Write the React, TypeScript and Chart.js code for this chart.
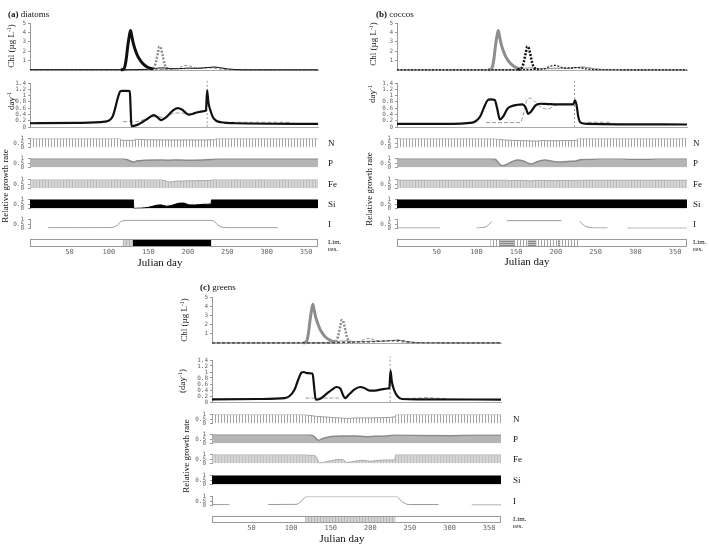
import React, { useEffect, useRef } from "react";
import { Chart, registerables } from "chart.js";
Chart.register(...registerables);

type Pt = [number, number | null];
type Seg = [number, number, string];

// ---------------- data ----------------
const dayTicks = [50, 100, 150, 200, 250, 300, 350];
const chlTicks = [1, 2, 3, 4, 5];
const growthTicks = [0, 0.2, 0.4, 0.6, 0.8, 1, 1.2, 1.4];
const limTicks = [0, 0.5, 1];

// Chlorophyll (µg L-1), shared model run
const chlDiatomBloom: Pt[] = [[115, 0.03], [118, 0.05], [120, 0.3], [122, 1.2], [124, 2.6], [126, 3.7], [127.5, 4.2], [129, 3.6], [131, 2.8], [134, 2.0], [137, 1.4], [140, 1.0], [144, 0.6], [148, 0.35], [152, 0.2], [156, 0.12]];
const chlDiatomTail: Pt[] = [[0, 0.03], [115, 0.03], [156, 0.12], [162, 0.2], [170, 0.22], [178, 0.14], [188, 0.14], [200, 0.2], [210, 0.18], [220, 0.22], [228, 0.28], [234, 0.32], [240, 0.25], [250, 0.12], [260, 0.05], [280, 0.02], [365, 0.02]];
const chlCoccoPeak: Pt[] = [[152, 0.05], [156, 0.15], [158, 0.4], [160, 1.0], [162, 1.8], [164, 2.5], [166, 2.3], [168, 1.6], [170, 0.8], [172, 0.35], [175, 0.12], [178, 0.08]];
const chlCoccoTail: Pt[] = [[0, 0.02], [152, 0.02], [178, 0.08], [185, 0.12], [190, 0.3], [195, 0.45], [199, 0.5], [204, 0.38], [210, 0.22], [218, 0.2], [225, 0.25], [232, 0.2], [240, 0.1], [250, 0.03], [365, 0.02]];
const chlGreens: Pt[] = [[0, 0.02], [150, 0.02], [160, 0.05], [175, 0.1], [190, 0.12], [205, 0.15], [215, 0.22], [225, 0.25], [235, 0.28], [242, 0.22], [250, 0.1], [260, 0.03], [365, 0.02]];

// growth rates (day-1)
const grA: Pt[] = [[0, 0.12], [60, 0.13], [95, 0.17], [101, 0.22], [105, 0.35], [108, 0.6], [111, 0.9], [114, 1.12], [116, 1.15], [122, 1.15], [126.5, 1.14], [127.5, 0.6], [128.5, 0.03], [135, 0.06], [142, 0.15], [150, 0.28], [157, 0.38], [162, 0.3], [166, 0.22], [172, 0.3], [180, 0.5], [187, 0.6], [193, 0.55], [201, 0.39], [210, 0.45], [219, 0.5], [223, 0.52], [224.5, 1.17], [226, 0.8], [229, 0.5], [232, 0.3], [236, 0.2], [242, 0.15], [260, 0.12], [365, 0.1]];
const lossA: Pt[] = [[118, 0.17], [134, 0.17], [140, 0.2], [150, 0.28], [160, 0.33], [170, 0.3], [180, 0.42], [190, 0.45], [200, 0.42], [212, 0.47], [222, 0.5], [224, 0.5], [232, null], [240, 0.15], [330, 0.15]];
const spikeA: Pt[] = [[224.5, 0], [224.5, 1.5]];
const grB: Pt[] = [[0, 0.1], [60, 0.1], [95, 0.14], [100, 0.2], [105, 0.35], [110, 0.65], [114, 0.85], [118, 0.88], [123, 0.86], [126, 0.6], [129.5, 0.24], [134, 0.35], [139, 0.58], [144, 0.66], [150, 0.7], [158, 0.72], [162, 0.62], [165, 0.42], [169, 0.5], [174, 0.68], [180, 0.74], [190, 0.73], [200, 0.72], [210, 0.72], [222, 0.72], [224, 0.85], [226, 0.7], [228, 0.35], [231, 0.14], [240, 0.1], [365, 0.08]];
const lossB: Pt[] = [[112, 0.14], [155, 0.14], [160, 0.5], [164, 0.88], [168, 0.92], [174, 0.8], [182, 0.62], [190, 0.57], [198, 0.68], [205, 0.72], [223, 0.73], [230, null], [240, 0.15], [268, 0.15]];
const spikeB: Pt[] = [[223.5, 0], [223.5, 1.5]];
const grC: Pt[] = [[0, 0.09], [60, 0.1], [92, 0.13], [98, 0.2], [104, 0.4], [109, 0.75], [113, 0.98], [116, 1.0], [120, 0.96], [127, 0.95], [129, 0.5], [131, 0.08], [136, 0.1], [145, 0.28], [152, 0.42], [157, 0.5], [162, 0.45], [166, 0.2], [168, 0.13], [173, 0.25], [180, 0.42], [187, 0.5], [193, 0.46], [199, 0.38], [206, 0.38], [214, 0.42], [222, 0.45], [224, 0.47], [225.5, 1.05], [227, 0.7], [230, 0.4], [234, 0.2], [240, 0.1], [260, 0.09], [365, 0.08]];
const lossC: Pt[] = [[118, 0.13], [160, 0.13], [170, null], [245, 0.12], [262, 0.13], [270, 0.15], [282, 0.13], [295, 0.11]];
const spikeC: Pt[] = [[225, 0], [225, 1.52]];

// relative growth rate by resource
const nA: Pt[] = [[0, 1], [114, 1], [116, 0.8], [132, 0.8], [134, 0.93], [140, 0.9], [150, 0.86], [170, 0.85], [200, 0.85], [220, 0.85], [234, 0.86], [236, 1], [365, 1]];
const pA: Pt[] = [[0, 1], [118, 1], [122, 0.92], [131, 0.62], [136, 0.75], [145, 0.8], [160, 0.85], [175, 0.82], [190, 0.85], [205, 0.8], [220, 0.85], [232, 0.92], [240, 0.97], [365, 0.97]];
const feA: Pt[] = [[0, 1], [165, 1], [172, 0.85], [177, 0.72], [182, 0.8], [195, 0.85], [210, 0.88], [228, 0.9], [232, 1], [365, 1]];
const siA: Pt[] = [[0, 1], [131, 1], [131.5, 0], [140, 0.03], [150, 0.12], [160, 0.35], [166, 0.4], [173, 0.25], [180, 0.35], [190, 0.6], [195, 0.6], [202, 0.4], [210, 0.4], [220, 0.47], [229.5, 0.5], [230, 1], [365, 1]];
const iA: Pt[] = [[23, 0.08], [60, 0.08], [100, 0.09], [106, 0.15], [111, 0.4], [115, 0.75], [119, 0.9], [123, 0.92], [230, 0.92], [234, 0.75], [238, 0.4], [242, 0.18], [247, 0.1], [252, 0.08], [314, 0.08]];
const limA: Seg[] = [[0, 118, "I"], [118, 131, "Fe"], [131, 230, "Si"], [230, 365, "I"]];

const nB: Pt[] = [[0, 1], [112, 1], [118, 0.96], [122, 1], [128, 0.92], [135, 0.85], [145, 0.8], [155, 0.78], [165, 0.75], [175, 0.72], [185, 0.78], [195, 0.75], [205, 0.77], [215, 0.78], [226, 0.8], [228, 1], [365, 1]];
const pB: Pt[] = [[0, 1], [118, 1], [124, 0.9], [128, 0.5], [132, 0.2], [137, 0.3], [145, 0.65], [152, 0.85], [160, 0.7], [166, 0.45], [170, 0.4], [176, 0.65], [186, 0.85], [195, 0.7], [203, 0.6], [215, 0.68], [225, 0.72], [232, 0.9], [250, 0.95], [255, 1], [285, 1], [290, 0.92], [320, 0.92], [325, 1], [365, 1]];
const feB: Pt[] = [[0, 0.95], [138, 0.95], [142, 0.9], [160, 0.92], [168, 0.85], [172, 0.92], [200, 0.9], [230, 0.92], [232, 0.95], [365, 0.95]];
const siB: Pt[] = [[0, 1], [365, 1]];
const iB: Pt[] = [[0, 0.05], [54, 0.05], [60, null], [100, 0.05], [108, 0.1], [114, 0.3], [119, 0.8], [125, null], [138, 0.88], [207, 0.88], [215, null], [230, 0.8], [236, 0.3], [242, 0.12], [250, 0.05], [265, 0.05], [275, null], [290, 0.03], [365, 0.03]];
const limB: Seg[] = [[0, 118, "I"], [118, 230, "N"], [130, 147, "P"], [165, 175, "P"], [203, 205, "P"], [230, 365, "I"]];

const nC: Pt[] = [[0, 1], [116, 1], [122, 0.92], [132, 0.8], [145, 0.72], [155, 0.65], [165, 0.6], [172, 0.55], [180, 0.62], [195, 0.62], [210, 0.65], [225, 0.68], [231, 0.75], [233, 1], [365, 1]];
const pC: Pt[] = [[0, 1], [118, 1], [126, 0.95], [131, 0.6], [134, 0.35], [140, 0.55], [150, 0.78], [165, 0.85], [180, 0.85], [195, 0.75], [205, 0.8], [220, 0.85], [232, 0.97], [240, 0.95], [280, 0.9], [300, 0.88], [330, 0.95], [365, 0.95]];
const feC: Pt[] = [[0, 1], [118, 1], [122, 0.95], [130, 0.9], [133, 0.5], [136, 0.05], [145, 0.2], [155, 0.4], [163, 0.45], [167, 0.35], [170, 0.1], [180, 0.25], [190, 0.35], [200, 0.25], [210, 0.35], [222, 0.38], [231, 0.4], [232, 1], [365, 1]];
const siC: Pt[] = [[0, 1], [365, 1]];
const iC: Pt[] = [[0, 0.1], [22, 0.08], [40, null], [71, 0.1], [106, 0.12], [112, 0.4], [116, 0.8], [120, 1], [233, 1], [238, 0.6], [243, 0.25], [248, 0.1], [286, 0.1], [300, null], [328, 0.05], [365, 0.05]];
const limC: Seg[] = [[0, 118, "I"], [118, 232, "Fe"], [232, 365, "I"]];

// ---------------- styling / helpers ----------------
const MONO = "'DejaVu Sans Mono', monospace";
const SERIF = "'Liberation Serif', 'DejaVu Serif', serif";
const BLACK = "#111";
const GRAY = "#8e8e8e";

const xy = (a: Pt[]) => a.map(([x, y]) => ({ x, y }));

function vPattern(bg: string, fg: string, step: number) {
  const c = document.createElement("canvas");
  c.width = step; c.height = 1;
  const g = c.getContext("2d")!;
  g.fillStyle = bg; g.fillRect(0, 0, step, 1);
  g.fillStyle = fg; g.fillRect(0, 0, 1, 1);
  return g.createPattern(c, "repeat")!;
}
function hPattern(bg: string, fg: string, step: number) {
  const c = document.createElement("canvas");
  c.width = 1; c.height = step;
  const g = c.getContext("2d")!;
  g.fillStyle = bg; g.fillRect(0, 0, 1, step);
  g.fillStyle = fg; g.fillRect(0, 0, 1, 1);
  return g.createPattern(c, "repeat")!;
}
function limFill(k: string): any {
  if (k === "Si") return "#000";
  if (k === "Fe") return vPattern("#d4d4d4", "#b5b5b5", 3);
  if (k === "N") return vPattern("#ffffff", "#a5a5a5", 3);
  if (k === "P") return hPattern("#c4c4c4", "#8a8a8a", 2);
  return "#ffffff";
}

type Pad = { yW: number; padT: number; padB: number; padR: number; xH: number };

function yAxis(min: number, max: number, ticks: number[], p: Pad, pad: number) {
  return {
    type: "linear", min, max,
    afterFit: (s: any) => { s.width = p.yW; },
    afterBuildTicks: (s: any) => { s.ticks = ticks.map((v) => ({ value: v })); },
    ticks: { autoSkip: false, font: { family: MONO, size: 6 }, color: "#666", padding: pad, callback: (v: any) => String(v) },
    grid: { display: true, drawOnChartArea: false, drawTicks: true, tickLength: 2, color: "#999" },
    border: { display: true, color: "#999", width: 1 },
  };
}
function xAxis(p: Pad, show: boolean, border: any) {
  return {
    type: "linear", min: 0, max: 365,
    afterFit: (s: any) => { s.height = p.xH; },
    afterBuildTicks: (s: any) => { s.ticks = dayTicks.map((v) => ({ value: v })); },
    ticks: { display: show, autoSkip: false, maxRotation: 0, font: { family: MONO, size: 7 }, color: "#666", padding: 1 },
    grid: { display: false, drawTicks: false },
    border,
  };
}
function baseOpts(p: Pad, left: number) {
  return {
    animation: false, responsive: false, maintainAspectRatio: false, devicePixelRatio: 1, events: [],
    layout: { padding: { top: p.padT, bottom: p.padB, left, right: p.padR } },
    plugins: { legend: { display: false }, tooltip: { enabled: false }, title: { display: false } },
  };
}
function lineDs(d: Pt[], color: string, width: number, dash: number[] = [], extra: any = {}) {
  return { type: "line", data: xy(d), borderColor: color, borderWidth: width, borderDash: dash, pointRadius: 0, fill: false, cubicInterpolationMode: "monotone", ...extra };
}

type LS = { d: Pt[]; c: string; w: number; dash?: number[] };

function makeLines(lines: LS[], ymin: number, ymax: number, ticks: number[], border: any, tickPad: number) {
  return (p: Pad) => ({
    type: "line",
    data: { datasets: lines.map((l) => lineDs(l.d, l.c, l.w, l.dash || [], { clip: false })) },
    options: { ...baseOpts(p, 0), scales: { x: xAxis(p, false, border), y: yAxis(ymin, ymax, ticks, p, tickPad) } },
  });
}
function makeSub(kind: string, d: Pt[]) {
  return (p: Pad) => {
    let ds: any;
    if (kind === "N") ds = lineDs(d, "#a0a0a0", 1, [], { fill: "origin", backgroundColor: vPattern("#ffffff", "#a5a5a5", 3), cubicInterpolationMode: "default", tension: 0 });
    else if (kind === "P") ds = lineDs(d, "#8a8a8a", 1.5, [], { fill: "origin", backgroundColor: "#b5b5b5" });
    else if (kind === "Fe") ds = lineDs(d, "#aaaaaa", 1, [], { fill: "origin", backgroundColor: vPattern("#d6d6d6", "#bdbdbd", 3) });
    else if (kind === "Si") ds = lineDs(d, "#000", 1, [], { fill: "origin", backgroundColor: "#000" });
    else ds = lineDs(d, "#9a9a9a", 1);
    return {
      type: "line",
      data: { datasets: [ds] },
      options: { ...baseOpts(p, 0), scales: { x: xAxis(p, false, { display: false }), y: yAxis(0, 1, limTicks, p, 4) } },
    };
  };
}
const framePlugin = {
  id: "frame",
  afterDatasetsDraw(chart: any) {
    const { ctx, chartArea: a } = chart;
    ctx.save();
    ctx.strokeStyle = "#9a9a9a";
    ctx.lineWidth = 1;
    ctx.strokeRect(Math.round(a.left) + 0.5, Math.round(a.top) + 0.5, Math.round(a.right - a.left) - 1, Math.round(a.bottom - a.top) - 1);
    ctx.restore();
  },
};
function makeLim(segs: Seg[]) {
  return (p: Pad) => ({
    type: "bar",
    data: {
      labels: [""],
      // later segments drawn on top (lower order = drawn later)
      datasets: segs.map(([a, b, k], i) => ({ data: [[a, b]], order: segs.length - i, backgroundColor: limFill(k), borderWidth: 0, grouped: false, barPercentage: 1, categoryPercentage: 1 })),
    },
    options: { ...baseOpts(p, p.yW), indexAxis: "y", scales: { x: xAxis(p, true, { display: false }), y: { display: false } } },
    plugins: [framePlugin],
  });
}

// ---------------- components ----------------
function Box(props: { x0: number; x1: number; row: [number, number]; make: (p: Pad) => any; padT?: number; padB?: number; xH?: number }) {
  const ref = useRef<HTMLCanvasElement>(null);
  const p: Pad = { yW: 30, padT: props.padT ?? 6, padB: props.padB ?? 6, padR: 4, xH: props.xH ?? 0 };
  const w = p.yW + (props.x1 - props.x0) + p.padR;
  const h = p.padT + (props.row[1] - props.row[0]) + p.xH + p.padB;
  useEffect(() => {
    const c = new Chart(ref.current!, props.make(p));
    return () => c.destroy();
  }, []);
  return <canvas ref={ref} width={w} height={h} style={{ position: "absolute", left: props.x0 - p.yW, top: props.row[0] - p.padT, width: w, height: h, display: "block" }} />;
}

function VText({ x, y, size = 9, children }: any) {
  return <div style={{ position: "absolute", left: x, top: y, transform: "translate(-50%,-50%) rotate(-90deg)", fontSize: size, whiteSpace: "nowrap", lineHeight: 1 }}>{children}</div>;
}
function Txt({ x, y, size = 9, center = false, children }: any) {
  return <div style={{ position: "absolute", left: x, top: y, transform: center ? "translate(-50%,-50%)" : "translate(0,-50%)", fontSize: size, whiteSpace: "nowrap", lineHeight: 1 }}>{children}</div>;
}
const Sup = ({ children }: any) => <span style={{ fontSize: "0.65em", position: "relative", top: "-0.5em" }}>{children}</span>;

type Rows = Record<string, [number, number]>;
const rowsAB: Rows = { chl: [23, 70], gr: [83, 127], N: [137, 149], P: [157, 169], Fe: [178, 190], Si: [198, 210], I: [218, 230], L: [239, 247] };
const rowsC: Rows = { chl: [297, 343], gr: [360, 402], N: [413, 425], P: [433, 445], Fe: [453, 465], Si: [474, 486], I: [495, 507], L: [516, 523] };

function Panel(props: any) {
  const { x0, x1, rows, chl, gr, subs, lim, t } = props;
  const mid = (r: [number, number]) => (r[0] + r[1]) / 2;
  return (
    <>
      <Box x0={x0} x1={x1} row={rows.chl} make={makeLines(chl, 0, 5, chlTicks, { display: true, color: "#aaa", dash: [3, 2] }, 2)} />
      <Box x0={x0} x1={x1} row={rows.gr} make={makeLines(gr, 0, 1.4, growthTicks, { display: true, color: "#aaa" }, 2)} />
      {["N", "P", "Fe", "Si", "I"].map((k, i) => (
        <Box key={k} x0={x0} x1={x1} row={rows[k]} make={makeSub(k, subs[i])} />
      ))}
      <Box x0={x0} x1={x1} row={rows.L} padT={2} padB={0} xH={10} make={makeLim(lim)} />
      <Txt x={t.title[0]} y={t.title[1]} size={9}><b>{t.tag}</b> {t.name}</Txt>
      <VText x={t.chl[0]} y={t.chl[1]}>Chl (µg L<Sup>-1</Sup>)</VText>
      <VText x={t.gr[0]} y={t.gr[1]}>{t.paren ? "(" : ""}day<Sup>-1</Sup>{t.paren ? ")" : ""}</VText>
      <VText x={t.rel[0]} y={t.rel[1]}>Relative growth rate</VText>
      <Txt x={t.jul[0]} y={t.jul[1]} size={11} center>Julian day</Txt>
      {["N", "P", "Fe", "Si", "I"].map((k) => (
        <Txt key={k} x={t.rx} y={mid(rows[k])} size={9}>{k}</Txt>
      ))}
      <Txt x={t.rx} y={mid(rows.L) - 1} size={7}>Lim.</Txt>
      <Txt x={t.rx} y={mid(rows.L) + 6} size={7}>res.</Txt>
    </>
  );
}

export default function App() {
  const chlA: LS[] = [
    { d: chlDiatomBloom, c: BLACK, w: 3 },
    { d: chlDiatomTail, c: BLACK, w: 1 },
    { d: chlCoccoPeak, c: GRAY, w: 2.5, dash: [2, 1.5] },
    { d: chlCoccoTail, c: GRAY, w: 1, dash: [3, 2] },
    { d: chlGreens, c: GRAY, w: 1, dash: [1.5, 2] },
  ];
  const chlB: LS[] = [
    { d: chlCoccoPeak, c: BLACK, w: 2.5, dash: [2, 1.5] },
    { d: chlCoccoTail, c: BLACK, w: 1.2, dash: [2, 1.5] },
    { d: chlDiatomBloom, c: GRAY, w: 3 },
    { d: chlDiatomTail, c: GRAY, w: 1 },
    { d: chlGreens, c: GRAY, w: 1, dash: [1.5, 2] },
  ];
  const chlC: LS[] = [
    { d: chlGreens, c: "#444", w: 1.2, dash: [3, 2] },
    { d: chlDiatomBloom, c: GRAY, w: 3 },
    { d: chlDiatomTail, c: GRAY, w: 1 },
    { d: chlCoccoPeak, c: GRAY, w: 2.5, dash: [2, 1.5] },
    { d: chlCoccoTail, c: GRAY, w: 1, dash: [3, 2] },
  ];
  const gStyle = (g: Pt[], l: Pt[], s: Pt[]): LS[] => [
    { d: g, c: BLACK, w: 2.2 },
    { d: l, c: "#999", w: 1, dash: [4, 2] },
    { d: s, c: "#999", w: 1, dash: [2, 2] },
  ];
  return (
    <div style={{ position: "absolute", left: 0, top: 0, width: 709, height: 555, background: "#fff", overflow: "hidden", fontFamily: SERIF, color: "#111" }}>
      <Panel x0={30} x1={318} rows={rowsAB} chl={chlA} gr={gStyle(grA, lossA, spikeA)} subs={[nA, pA, feA, siA, iA]} lim={limA}
        t={{ tag: "(a)", name: "diatoms", title: [8, 14], chl: [11, 46], gr: [11, 101], paren: false, rel: [5, 186], jul: [160, 262], rx: 328 }} />
      <Panel x0={397} x1={687} rows={rowsAB} chl={chlB} gr={gStyle(grB, lossB, spikeB)} subs={[nB, pB, feB, siB, iB]} lim={limB}
        t={{ tag: "(b)", name: "coccos", title: [376, 14], chl: [372.5, 44], gr: [372, 94], paren: false, rel: [368.5, 189], jul: [527, 261], rx: 693 }} />
      <Panel x0={212} x1={501} rows={rowsC} chl={chlC} gr={gStyle(grC, lossC, spikeC)} subs={[nC, pC, feC, siC, iC]} lim={limC}
        t={{ tag: "(c)", name: "greens", title: [200, 287], chl: [184, 320], gr: [182, 381], paren: true, rel: [186, 456], jul: [342, 538], rx: 513 }} />
    </div>
  );
}
